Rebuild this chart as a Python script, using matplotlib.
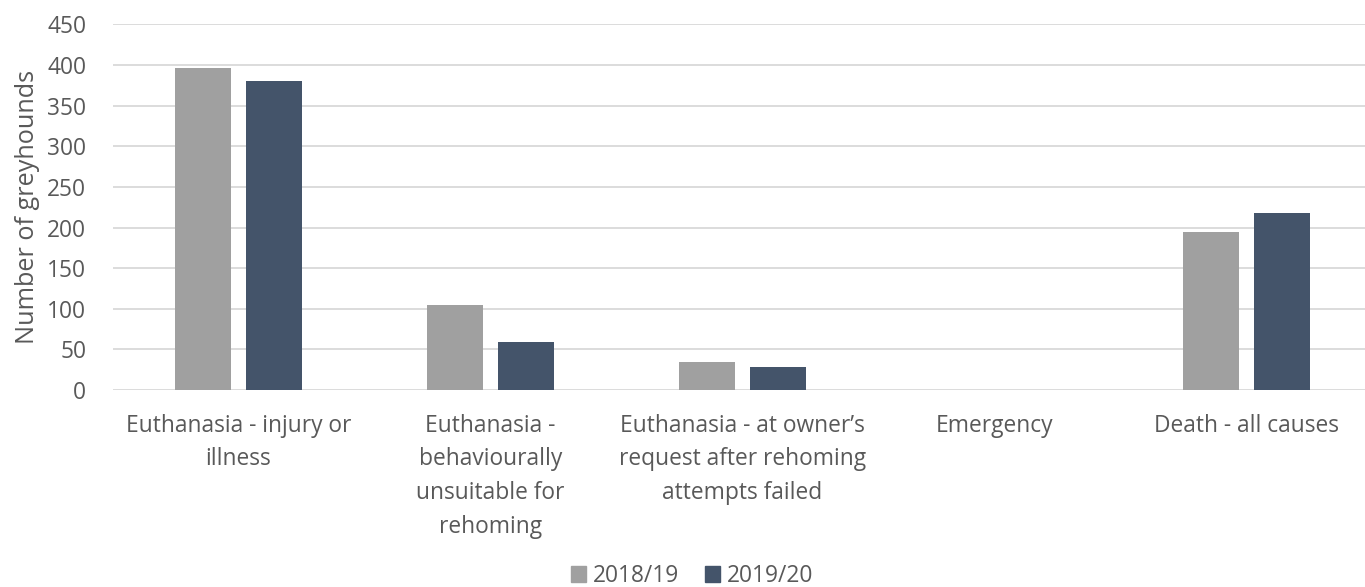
import numpy as np
import matplotlib.pyplot as plt
from matplotlib.patches import Patch

# Greyhound deaths / euthanasia by cause
categories = [
    'Euthanasia - injury or\nillness',
    'Euthanasia -\nbehaviourally\nunsuitable for\nrehoming',
    'Euthanasia - at owner\u2019s\nrequest after rehoming\nattempts failed',
    'Emergency',
    'Death - all causes',
]
series_names = ['2018/19', '2019/20']
values_1819 = [396, 105, 35, 0, 195]
values_1920 = [380, 59, 28, 0, 218]

colors = ['#A0A0A0', '#44546A']
text_color = '#595959'

plt.rcParams['font.family'] = ['Open Sans', 'DejaVu Sans']


def main():
    fig = plt.figure(figsize=(13.65, 5.87), dpi=100)
    ax = fig.add_axes([112.5 / 1365, 1 - 390 / 587, 1 - 112.5 / 1365, (390 - 24.4) / 587])

    x = np.arange(len(categories))
    width = 0.222
    offset = 0.141
    ax.bar(x - offset, values_1819, width, color=colors[0], zorder=3)
    ax.bar(x + offset, values_1920, width, color=colors[1], zorder=3)

    ax.set_xlim(-0.5, 4.47)
    ax.set_ylim(0, 450)
    ax.set_yticks(np.arange(0, 451, 50))
    ax.grid(axis='y', color='#D9D9D9', linewidth=1.3, zorder=0)
    for s in ax.spines.values():
        s.set_visible(False)
    ax.tick_params(axis='both', length=0, labelsize=16.4, colors=text_color)
    ax.tick_params(axis='y', pad=19)
    ax.tick_params(axis='x', pad=17)
    ax.set_xticks(x)
    ax.set_xticklabels(categories, linespacing=1.54, va='top')
    ax.set_ylabel('Number of greyhounds', fontsize=18.2, color=text_color, labelpad=5)

    handles = [Patch(color=c) for c in colors]
    fig.legend(handles, series_names, loc='lower center', ncol=2, frameon=False,
               fontsize=16.4, labelcolor=text_color, handlelength=0.66, handleheight=0.66,
               handletextpad=0.3, columnspacing=1.15, borderaxespad=0,
               bbox_to_anchor=(0.507, -0.017))

    fig.savefig('out.png', dpi=100)


if __name__ == '__main__':
    main()
